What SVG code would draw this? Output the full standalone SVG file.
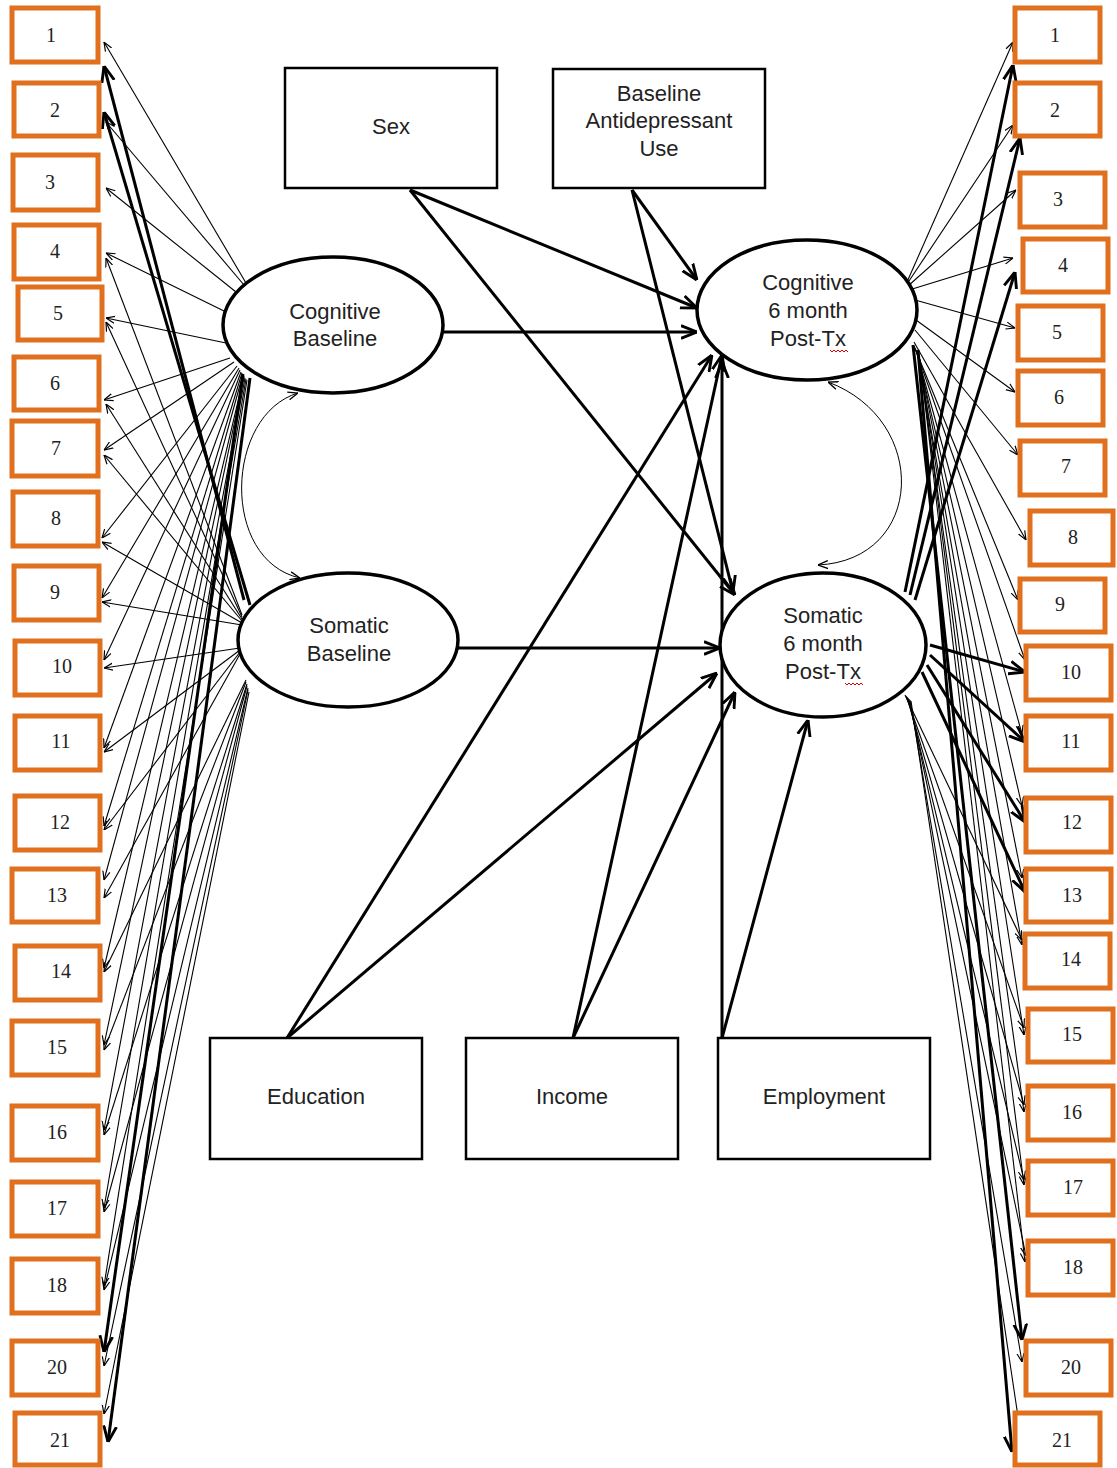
<svg xmlns="http://www.w3.org/2000/svg" width="1117" height="1468" viewBox="0 0 1117 1468">
<defs>
<style>
.ind{fill:#fff;stroke:#E0701E;stroke-width:5}
.num{font-family:"Liberation Serif",serif;font-size:20px;fill:#222;text-anchor:middle}
.box{fill:#fff;stroke:#000;stroke-width:2.5}
.lat{fill:#fff;stroke:#000;stroke-width:3.5}
.lbl{font-family:"Liberation Sans",Arial,sans-serif;font-size:22px;fill:#222;text-anchor:middle}
.t{fill:none;stroke:#000;stroke-width:1.1;marker-end:url(#at)}
.k{fill:none;stroke:#000;stroke-width:3;marker-end:url(#ak)}
.c{fill:none;stroke:#000;stroke-width:1;marker-end:url(#ac);marker-start:url(#ac)}
.sq{fill:none;stroke:#d00;stroke-width:1}
</style>
<marker id="at" viewBox="0 0 10 10" refX="10" refY="5" markerWidth="9" markerHeight="9" markerUnits="userSpaceOnUse" orient="auto"><path d="M0,1 L10,5 L0,9" fill="none" stroke="#000" stroke-width="1.3"/></marker>
<marker id="ak" viewBox="0 0 10 10" refX="10" refY="5" markerWidth="16" markerHeight="16" markerUnits="userSpaceOnUse" orient="auto"><path d="M0,1 L10,5 L0,9" fill="none" stroke="#000" stroke-width="1.8"/></marker>
<marker id="ac" viewBox="0 0 10 10" refX="10" refY="5" markerWidth="10" markerHeight="10" markerUnits="userSpaceOnUse" orient="auto-start-reverse"><path d="M0,1 L10,5 L0,9" fill="none" stroke="#000" stroke-width="1.3"/></marker>
</defs>
<rect width="1117" height="1468" fill="#fff"/>

<g id="connectors">
<!-- left: Cognitive Baseline thin -->
<path class="t" d="M246,283 L104,42"/>
<path class="t" d="M244,285 L106,122"/>
<path class="t" d="M236,292 L106,188"/>
<path class="t" d="M226,312 L106,253"/>
<path class="t" d="M226,343 L106,318"/>
<path class="t" d="M230,358 L104,400"/>
<path class="t" d="M234,362 L104,450"/>
<path class="t" d="M237,366 L102,538"/>
<path class="t" d="M239,368 L102,598"/>
<path class="t" d="M240,370 L104,660"/>
<path class="t" d="M241,372 L104,748"/>
<path class="t" d="M242,373 L104,826"/>
<path class="t" d="M243,374 L104,880"/>
<path class="t" d="M244,376 L104,968"/>
<path class="t" d="M244,377 L104,1045"/>
<path class="t" d="M245,378 L104,1130"/>
<path class="t" d="M246,379 L104,1208"/>
<path class="t" d="M247,380 L104,1286"/>
<path class="k" d="M243,374 L104,1352"/>
<path class="k" d="M250,378 L108,1442"/>
<!-- left: Somatic Baseline -->
<path class="k" d="M244,600 L104,66"/>
<path class="k" d="M250,605 L104,112"/>
<path class="t" d="M242,615 L106,258"/>
<path class="t" d="M242,617 L106,322"/>
<path class="t" d="M242,619 L106,404"/>
<path class="t" d="M242,621 L104,455"/>
<path class="t" d="M242,623 L102,542"/>
<path class="t" d="M242,625 L102,602"/>
<path class="t" d="M240,648 L104,668"/>
<path class="t" d="M240,650 L104,752"/>
<path class="t" d="M240,652 L104,830"/>
<path class="t" d="M240,654 L104,898"/>
<path class="t" d="M246,680 L104,972"/>
<path class="t" d="M246,682 L104,1050"/>
<path class="t" d="M247,684 L104,1135"/>
<path class="t" d="M247,686 L104,1212"/>
<path class="t" d="M248,688 L104,1290"/>
<path class="t" d="M248,690 L104,1366"/>
<path class="t" d="M249,692 L104,1414"/>
<!-- right: Cognitive 6 month thin -->
<path class="t" d="M907,282 L1013,42"/>
<path class="t" d="M907,284 L1013,125"/>
<path class="t" d="M908,286 L1016,190"/>
<path class="t" d="M909,290 L1013,258"/>
<path class="t" d="M915,300 L1015,328"/>
<path class="t" d="M916,320 L1015,392"/>
<path class="t" d="M915,330 L1018,455"/>
<path class="t" d="M914,342 L1026,540"/>
<path class="t" d="M914,346 L1018,600"/>
<path class="t" d="M915,348 L1025,660"/>
<path class="t" d="M916,350 L1022,734"/>
<path class="t" d="M917,352 L1022,806"/>
<path class="t" d="M918,354 L1022,878"/>
<path class="t" d="M918,356 L1022,945"/>
<path class="t" d="M919,357 L1024,1035"/>
<path class="t" d="M919,358 L1024,1112"/>
<path class="t" d="M920,359 L1024,1185"/>
<path class="t" d="M920,360 L1025,1262"/>
<path class="k" d="M913,345 L1022,1340"/>
<path class="k" d="M918,350 L1012,1452"/>
<!-- right: Somatic 6 month -->
<path class="k" d="M905,592 L1013,65"/>
<path class="k" d="M910,595 L1020,138"/>
<path class="k" d="M915,600 L1015,272"/>
<path class="k" d="M930,645 L1025,672"/>
<path class="k" d="M930,655 L1025,742"/>
<path class="k" d="M927,665 L1025,822"/>
<path class="k" d="M922,672 L1025,892"/>
<path class="t" d="M905,695 L1022,940"/>
<path class="t" d="M906,696 L1024,1028"/>
<path class="t" d="M907,697 L1024,1105"/>
<path class="t" d="M908,698 L1024,1180"/>
<path class="t" d="M909,699 L1026,1256"/>
<path class="t" d="M910,700 L1022,1362"/>
<path class="t" d="M911,701 L1020,1430"/>
<!-- structural paths -->
<path class="k" d="M443,332 L697,332"/>
<path class="k" d="M458,648 L720,648"/>
<path class="k" d="M410,190 L697,308"/>
<path class="k" d="M410,190 L735,595"/>
<path class="k" d="M632,190 L697,280"/>
<path class="k" d="M632,190 L733,592"/>
<path class="k" d="M287,1038 L712,355"/>
<path class="k" d="M287,1038 L717,673"/>
<path class="k" d="M573,1038 L722,355"/>
<path class="k" d="M573,1038 L735,692"/>
<path class="k" d="M722,1038 L722,362"/>
<path class="k" d="M722,1038 L808,720"/>
<!-- correlations -->
<path class="c" d="M298,393 C225,415 220,560 300,578"/>
<path class="c" d="M828,382 C930,420 925,560 818,565"/>
</g>

<g id="left-indicators">
<g id="L1"><rect class="ind" x="12" y="8" width="86" height="54"/><text class="num" x="51" y="42">1</text></g>
<g id="L2"><rect class="ind" x="14" y="83" width="85" height="53"/><text class="num" x="55" y="117">2</text></g>
<g id="L3"><rect class="ind" x="13" y="155" width="85" height="55"/><text class="num" x="50" y="189">3</text></g>
<g id="L4"><rect class="ind" x="14" y="225" width="85" height="54"/><text class="num" x="55" y="258">4</text></g>
<g id="L5"><rect class="ind" x="18" y="287" width="84" height="53"/><text class="num" x="58" y="320">5</text></g>
<g id="L6"><rect class="ind" x="14" y="357" width="85" height="53"/><text class="num" x="55" y="390">6</text></g>
<g id="L7"><rect class="ind" x="12" y="421" width="86" height="55"/><text class="num" x="56" y="455">7</text></g>
<g id="L8"><rect class="ind" x="13" y="492" width="85" height="54"/><text class="num" x="56" y="525">8</text></g>
<g id="L9"><rect class="ind" x="14" y="566" width="85" height="54"/><text class="num" x="55" y="599">9</text></g>
<g id="L10"><rect class="ind" x="15" y="641" width="85" height="54"/><text class="num" x="62" y="673">10</text></g>
<g id="L11"><rect class="ind" x="15" y="716" width="85" height="54"/><text class="num" x="61" y="748">11</text></g>
<g id="L12"><rect class="ind" x="15" y="796" width="85" height="54"/><text class="num" x="60" y="829">12</text></g>
<g id="L13"><rect class="ind" x="12" y="869" width="86" height="53"/><text class="num" x="57" y="902">13</text></g>
<g id="L14"><rect class="ind" x="15" y="946" width="85" height="54"/><text class="num" x="61" y="978">14</text></g>
<g id="L15"><rect class="ind" x="12" y="1021" width="86" height="54"/><text class="num" x="57" y="1054">15</text></g>
<g id="L16"><rect class="ind" x="12" y="1106" width="86" height="54"/><text class="num" x="57" y="1139">16</text></g>
<g id="L17"><rect class="ind" x="12" y="1182" width="86" height="54"/><text class="num" x="57" y="1215">17</text></g>
<g id="L18"><rect class="ind" x="12" y="1259" width="86" height="54"/><text class="num" x="57" y="1292">18</text></g>
<g id="L20"><rect class="ind" x="12" y="1341" width="86" height="54"/><text class="num" x="57" y="1374">20</text></g>
<g id="L21"><rect class="ind" x="15" y="1413" width="85" height="52"/><text class="num" x="60" y="1447">21</text></g>
</g>

<g id="right-indicators">
<g id="R1"><rect class="ind" x="1015" y="8" width="85" height="54"/><text class="num" x="1055" y="42">1</text></g>
<g id="R2"><rect class="ind" x="1015" y="83" width="85" height="53"/><text class="num" x="1055" y="117">2</text></g>
<g id="R3"><rect class="ind" x="1020" y="173" width="85" height="54"/><text class="num" x="1058" y="206">3</text></g>
<g id="R4"><rect class="ind" x="1023" y="239" width="85" height="53"/><text class="num" x="1063" y="272">4</text></g>
<g id="R5"><rect class="ind" x="1018" y="306" width="85" height="54"/><text class="num" x="1057" y="339">5</text></g>
<g id="R6"><rect class="ind" x="1018" y="371" width="85" height="54"/><text class="num" x="1059" y="404">6</text></g>
<g id="R7"><rect class="ind" x="1020" y="441" width="85" height="54"/><text class="num" x="1066" y="473">7</text></g>
<g id="R8"><rect class="ind" x="1030" y="511" width="83" height="54"/><text class="num" x="1073" y="544">8</text></g>
<g id="R9"><rect class="ind" x="1020" y="579" width="85" height="53"/><text class="num" x="1060" y="611">9</text></g>
<g id="R10"><rect class="ind" x="1026" y="646" width="85" height="54"/><text class="num" x="1071" y="679">10</text></g>
<g id="R11"><rect class="ind" x="1026" y="716" width="85" height="54"/><text class="num" x="1071" y="748">11</text></g>
<g id="R12"><rect class="ind" x="1026" y="798" width="85" height="54"/><text class="num" x="1072" y="829">12</text></g>
<g id="R13"><rect class="ind" x="1026" y="869" width="85" height="53"/><text class="num" x="1072" y="902">13</text></g>
<g id="R14"><rect class="ind" x="1025" y="934" width="85" height="54"/><text class="num" x="1071" y="966">14</text></g>
<g id="R15"><rect class="ind" x="1028" y="1009" width="85" height="53"/><text class="num" x="1072" y="1041">15</text></g>
<g id="R16"><rect class="ind" x="1028" y="1086" width="85" height="54"/><text class="num" x="1072" y="1119">16</text></g>
<g id="R17"><rect class="ind" x="1028" y="1161" width="85" height="54"/><text class="num" x="1073" y="1194">17</text></g>
<g id="R18"><rect class="ind" x="1028" y="1241" width="85" height="54"/><text class="num" x="1073" y="1274">18</text></g>
<g id="R20"><rect class="ind" x="1026" y="1341" width="85" height="54"/><text class="num" x="1071" y="1374">20</text></g>
<g id="R21"><rect class="ind" x="1015" y="1413" width="85" height="52"/><text class="num" x="1062" y="1447">21</text></g>
</g>

<g id="sex"><rect class="box" x="285" y="68" width="212" height="120"/><text class="lbl" x="391" y="134">Sex</text></g>
<g id="antidep"><rect class="box" x="553" y="69" width="212" height="119"/><text class="lbl" x="659" y="101">Baseline</text><text class="lbl" x="659" y="128">Antidepressant</text><text class="lbl" x="659" y="156">Use</text></g>
<g id="education"><rect class="box" x="210" y="1038" width="212" height="121"/><text class="lbl" x="316" y="1104">Education</text></g>
<g id="income"><rect class="box" x="466" y="1038" width="212" height="121"/><text class="lbl" x="572" y="1104">Income</text></g>
<g id="employment"><rect class="box" x="718" y="1038" width="212" height="121"/><text class="lbl" x="824" y="1104">Employment</text></g>

<g id="cog-base"><ellipse class="lat" cx="333" cy="325" rx="110" ry="68"/><text class="lbl" x="335" y="319">Cognitive</text><text class="lbl" x="335" y="346">Baseline</text></g>
<g id="som-base"><ellipse class="lat" cx="348" cy="640" rx="110" ry="67"/><text class="lbl" x="349" y="633">Somatic</text><text class="lbl" x="349" y="661">Baseline</text></g>
<g id="cog-6m"><ellipse class="lat" cx="807" cy="310" rx="110" ry="70"/><text class="lbl" x="808" y="290">Cognitive</text><text class="lbl" x="808" y="318">6 month</text><text class="lbl" x="808" y="346">Post-Tx</text>
<path class="sq" d="M830,350 l2,2 l2,-2 l2,2 l2,-2 l2,2 l2,-2 l2,2 l2,-2 l2,2"/></g>
<g id="som-6m"><ellipse class="lat" cx="823" cy="645" rx="103" ry="72"/><text class="lbl" x="823" y="623">Somatic</text><text class="lbl" x="823" y="651">6 month</text><text class="lbl" x="823" y="679">Post-Tx</text>
<path class="sq" d="M845,683 l2,2 l2,-2 l2,2 l2,-2 l2,2 l2,-2 l2,2 l2,-2 l2,2"/></g>
</svg>
